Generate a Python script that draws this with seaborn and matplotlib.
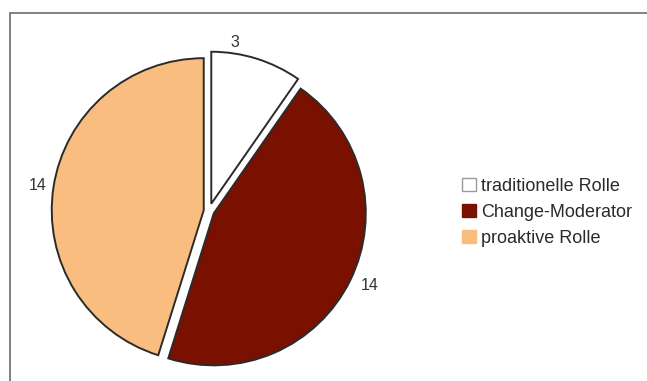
import matplotlib
matplotlib.use("Agg")
import matplotlib.pyplot as plt
from matplotlib.patches import Patch, Rectangle
import seaborn as sns

categories = ["traditionelle Rolle", "Change-Moderator", "proaktive Rolle"]
values = [3, 14, 14]
colors = ["#FFFFFF", "#7A1100", "#F9BD7F"]
legend_edges = ["#9A9A9A", "#7A1100", "#F9BD7F"]

sns.set_theme(style="white")
plt.rcParams["font.family"] = ["Liberation Sans", "DejaVu Sans"]

W, H = 647, 381
fig = plt.figure(figsize=(W / 100, H / 100), dpi=100)
ax = fig.add_axes([0, 0, 1, 1])

wedges, texts = ax.pie(
    values,
    explode=[0.05, 0.035, 0.035],
    startangle=90,
    counterclock=False,
    colors=colors,
    labels=[str(v) for v in values],
    labeldistance=1.13,
    wedgeprops=dict(edgecolor="#2b2b2b", linewidth=1.4),
    textprops=dict(fontsize=11.5, color="#333333"),
)
# nudge data labels to where the reference places them
label_pos = [(0.17, 1.11), (1.06, -0.49), (-1.125, 0.17)]
for t, p in zip(texts, label_pos):
    t.set_position(p)
    t.set_ha("center")
    t.set_va("center")

cx, cy, r = 209, 211, 152
ax.set_aspect("auto")
ax.set_xlim(-cx / r, (W - cx) / r)
ax.set_ylim((cy - H) / r, cy / r)
ax.axis("off")

handles = [Patch(facecolor=c, edgecolor=e, linewidth=1.0) for c, e in zip(colors, legend_edges)]
leg = fig.legend(
    handles, categories,
    loc="upper left",
    bbox_to_anchor=(462 / W, 1 - 178 / H),
    frameon=False,
    fontsize=13,
    handlelength=0.75,
    handleheight=0.75,
    handletextpad=0.3,
    labelspacing=0.5,
    borderpad=0,
    borderaxespad=0,
)
for t in leg.get_texts():
    t.set_color("#2a2a2a")

fig.patches.append(Rectangle((10 / W, -0.1), 1.2, 1 - 13 / H + 0.1,
                             transform=fig.transFigure, fill=False,
                             edgecolor="#777777", linewidth=1.3))

fig.savefig("out.png", dpi=100, facecolor="white")
